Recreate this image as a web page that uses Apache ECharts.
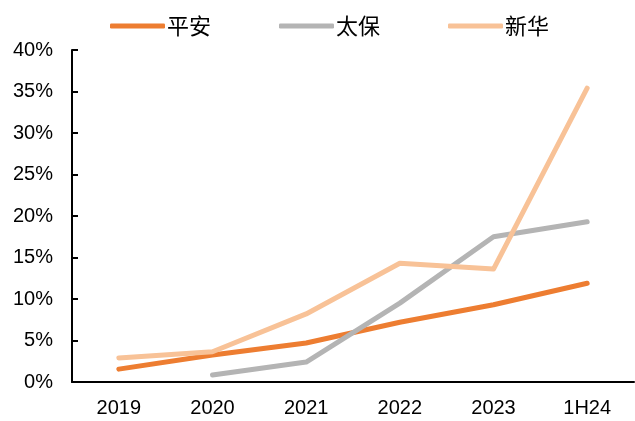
<!DOCTYPE html>
<html><head><meta charset="utf-8">
<script src="https://cdn.jsdelivr.net/npm/echarts@6/dist/echarts.min.js"></script>
<style>html,body{margin:0;padding:0;background:#fff}#c{width:635px;height:421px}</style>
</head><body><div id="c"></div>
<script>
const categories = ['2019','2020','2021','2022','2023','1H24'];
const pingan = [1.55, 3.25, 4.7, 7.2, 9.3, 11.9];
const taibao = [null, 0.85, 2.4, 9.5, 17.5, 19.3];
const xinhua = [2.9, 3.65, 8.2, 14.3, 13.6, 35.4];
const yTicks = [0,5,10,15,20,25,30,35,40];
const names = ['平安','太保','新华'];
const colors = ['#ED7D31','#B4B4B4','#F8C297'];
const chart = echarts.init(document.getElementById('c'));
const mk = (n, d, c) => ({name:n, type:'line', data:d, symbol:'none', connectNulls:false,
  lineStyle:{width:5, color:c, cap:'round', join:'round'}, itemStyle:{color:c}});
chart.setOption({
  animation:false,
  legend:{top:10, left:105, itemWidth:55, itemHeight:5, itemGap:68,
    icon:'roundRect',
    textStyle:{fontFamily:'Noto Sans CJK SC', fontSize:22, color:'#000', padding:[0,0,0,-3]},
    data:names},
  grid:{left:72, right:1, top:50, bottom:39, containLabel:false},
  xAxis:{type:'category', data:categories, boundaryGap:true,
    axisLine:{lineStyle:{color:'#000', width:2}},
    axisTick:{inside:true, length:6, lineStyle:{color:'#000', width:2}},
    axisLabel:{fontFamily:'Liberation Sans', fontSize:20, color:'#000', margin:16}},
  yAxis:{type:'value', min:yTicks[0], max:yTicks[yTicks.length-1], interval:yTicks[1]-yTicks[0],
    axisLine:{show:true, lineStyle:{color:'#000', width:2}},
    axisTick:{show:true, inside:true, length:6, lineStyle:{color:'#000', width:2}},
    splitLine:{show:false},
    axisLabel:{fontFamily:'Liberation Sans', fontSize:20, color:'#000', margin:19, formatter:'{value}%'}},
  series:[mk(names[0], pingan, colors[0]), mk(names[1], taibao, colors[1]), mk(names[2], xinhua, colors[2])]
});
</script></body></html>
